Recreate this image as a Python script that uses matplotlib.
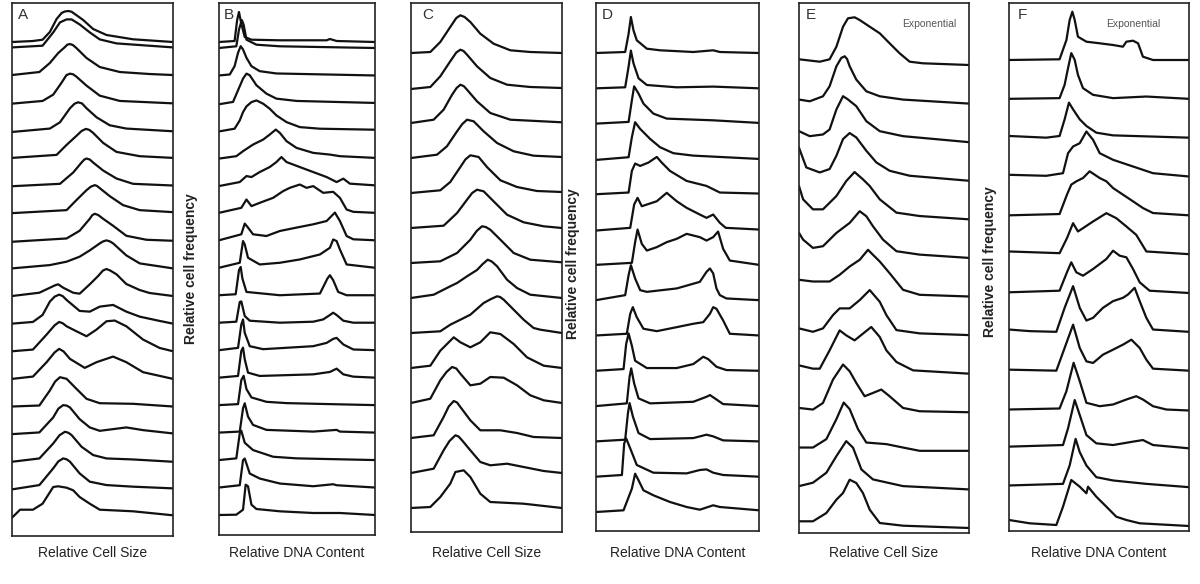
import matplotlib
matplotlib.use("Agg")
import matplotlib.pyplot as plt
import numpy as np

plt.rcParams['font.family'] = ['Liberation Sans', 'DejaVu Sans']

# Each trace: list of (channel position in % of axis, relative frequency)
# Traces are listed from the top of the stack to the bottom.

# A - relative cell size
size_a = [
    [(0, 0), (13, 1), (19, 2.3), (23.5, 10), (27.7, 23), (30.8, 29), (32.8, 30.5), (34.9, 31), (37, 30.3), (39, 28), (44.2, 22), (50.4, 13), (58.7, 7), (75.2, 2.7), (100, 0)],
    [(0, 0), (19, 1.7), (25.6, 15), (29.8, 25), (33.9, 28), (37, 28), (42, 23), (48.3, 15), (54.5, 8), (64.9, 4), (100, 0)],
    [(0, 0), (17, 3), (23.5, 12), (28.7, 22), (32.9, 28), (34.3, 30.3), (36, 31), (37.8, 30), (40, 27), (46.3, 17), (54.5, 8), (67, 3), (85.5, 1), (100, 0)],
    [(0, -1), (19, 1.7), (25.6, 8), (30.8, 20), (33.8, 27.5), (36, 29), (38, 28.3), (40, 26), (46.3, 17), (54.5, 7), (67, 1.7), (100, -0.7)],
    [(0, -1.7), (23.5, 1.7), (29.8, 8), (36, 22), (38.8, 26.5), (41, 28), (43.5, 26.8), (46.3, 22), (52.5, 13), (60.7, 5), (71, 1.7), (100, -1)],
    [(0, 0), (27.7, 3), (33.9, 13), (40, 22), (43.3, 27), (45.9, 29), (48, 28), (50.4, 25), (56.6, 15), (64.9, 6), (79.3, 1.7), (100, 0)],
    [(0, -0.7), (29.8, 1.7), (38, 13), (43.2, 23), (44.8, 25.8), (46.3, 27), (48.3, 26), (50.4, 23), (56.6, 15), (64.9, 7), (75.2, 1.7), (100, 0)],
    [(0, 0), (33.9, 3), (40, 13), (46.3, 23), (49, 26.5), (51.4, 28), (52.8, 27.2), (54.5, 25), (60.7, 17), (69, 8), (79.3, 3), (100, 1)],
    [(0, -1), (33.9, 2.3), (42, 10), (48.3, 22), (49.8, 25.5), (51.4, 27), (53.5, 25.8), (56.6, 22), (62.8, 15), (71, 5), (83.5, 1), (100, 0)],
    [(0, 0), (23.5, 3.3), (33.9, 6.7), (42, 11.7), (48.3, 18), (54.5, 25), (56.6, 27), (58.7, 28), (60.8, 27), (62.8, 25), (71, 13), (79.3, 5), (100, 0)],
    [(0, 0), (17, 3.3), (26.7, 10.7), (28.7, 11.7), (31.8, 8.3), (38, 3.3), (42, 2.3), (48.3, 11.7), (53.5, 20), (56.5, 25.5), (58.7, 27), (61, 25.5), (64.9, 21.7), (71, 12), (79.3, 6), (85.5, 3), (100, 0)],
    [(0, 0), (13, 1.7), (19, 8.7), (23.5, 22), (26.5, 27), (29.3, 29), (31.5, 27.5), (33.9, 23.7), (42, 12.7), (48.3, 12), (54.5, 17), (62.8, 18.7), (71, 12), (79.3, 7), (91.7, 2.7), (100, 0)],
    [(0, 0), (13, 1.7), (21.5, 16.7), (26.5, 26), (29.3, 29.3), (31.5, 28), (33.9, 25), (40, 20), (46.3, 15), (52.5, 21.7), (58.7, 30), (63.8, 30.7), (71, 25), (81.4, 11.7), (91.7, 3.3), (100, 0)],
    [(0, 0), (13, 2.3), (21.5, 16.7), (26.5, 26.5), (29.3, 30), (32, 27.5), (36, 20), (45.2, 11), (52.5, 16.7), (62.8, 22.3), (71, 16.7), (81.4, 6.7), (100, 0)],
    [(0, 0), (17, 1), (23.5, 16), (26.8, 25), (29.8, 29.3), (33.9, 27.7), (40, 17.7), (46.3, 7.7), (54.5, 3.3), (75.2, 2.7), (100, 0)],
    [(0, 0), (17, 1.7), (25.6, 16.7), (28.8, 25.5), (31.8, 29), (34, 28.5), (36, 26.7), (42, 15), (48.3, 6.7), (54.5, 3.3), (71, 6.7), (81.4, 4), (100, 0.7)],
    [(0, 0), (17, 3.3), (25.6, 18.3), (29.5, 26.5), (32.9, 30), (35, 29), (37, 26.7), (43.2, 15), (50.4, 6.7), (58.7, 3.3), (75.2, 2.3), (100, 0)],
    [(0, 0), (17, 4.3), (25.6, 21), (28.8, 28), (31.8, 31), (34, 30), (36, 27.7), (42, 16), (48.3, 7.7), (58.7, 4.3), (75.2, 2.7), (100, 1)],
    [(0, -0.7), (5, 7.3), (13, 7.3), (19, 13.3), (25.6, 30), (28.7, 30.7), (33.9, 29.3), (38, 26.7), (42, 20), (48.3, 13.3), (54.5, 7.3), (75.2, 5.7), (100, 1.7)],
]

# B - relative DNA content
dna_b = [
    [(0, 0), (10, 1), (11.6, 21.7), (12.8, 30), (14.3, 18.3), (16.5, 5), (20.8, 2.3), (39, 1.7), (69, 1.7), (71.1, 3), (75.4, 1), (100, 0)],
    [(0, 0), (11.1, 1.7), (12.8, 18.3), (14.6, 28), (15.8, 23.3), (17.6, 8.3), (24, 3.3), (39, 1.7), (100, 0)],
    [(0, 0), (6.9, 1), (10, 9.3), (12.2, 22.7), (13.9, 29.3), (15.4, 26), (17.6, 17.7), (20.8, 9.3), (26.1, 4.3), (36.8, 2), (100, 0)],
    [(0, -1.3), (9, 1), (12.2, 12.7), (15.4, 24.3), (17.6, 29.3), (19.7, 27.7), (24, 17.7), (30.4, 9.3), (36.8, 4.3), (49.7, 2), (100, 0)],
    [(0, -1), (10, 1.7), (13.3, 10), (15.4, 18.3), (17.6, 24), (20.8, 28.3), (24, 30), (28.3, 26.7), (32.5, 21.7), (36.8, 15), (43.3, 8.3), (51.8, 3.3), (64.7, 1.7), (100, 0.7)],
    [(0, -0.7), (11.1, 1.7), (15.4, 6.7), (21.8, 13.3), (28.3, 18.3), (32.5, 23.3), (36.4, 28.3), (39, 25), (43.3, 16.7), (49.7, 10), (60.4, 5), (71.1, 3.3), (77.5, 1.7), (100, 0)],
    [(0, -0.7), (13.3, 3.3), (17.6, 9.3), (20.8, 8.3), (26.1, 13.3), (32.5, 18.3), (36.8, 23.3), (40, 28.3), (43.3, 23.3), (51.8, 18.3), (60.4, 13.3), (69, 8.3), (75.4, 3.3), (79.7, 6.7), (83.9, 1.7), (100, 0)],
    [(0, 0), (14.3, 5), (17.6, 13.3), (20.8, 6.7), (26.1, 10), (34.7, 15), (41.1, 21.7), (45.4, 25), (51.8, 28.3), (56.1, 25), (60.4, 26.7), (66.8, 20), (73.2, 21), (77.5, 15), (81.8, 3.3), (86.1, 1), (100, 0)],
    [(0, 0), (14.3, 6), (16.5, 16.7), (18.6, 12.7), (21.8, 6), (30.4, 4.3), (39, 9.3), (49.7, 12.7), (60.4, 16), (69, 19.3), (74.3, 27.7), (77.5, 19.3), (81.8, 4.3), (86.1, 1), (100, 0)],
    [(0, 0), (13.3, 5), (15.4, 26.7), (16.5, 23.3), (18.6, 10), (26.1, 3.3), (39, 5), (51.8, 8.3), (64.7, 13.3), (71.1, 20), (73.2, 28.3), (75.4, 26.7), (77.5, 18.3), (81.8, 3.3), (100, 0)],
    [(0, 0), (10.7, 1), (12.8, 25), (13.9, 28.3), (15, 16.7), (17.6, 3.3), (39, 0), (64.7, 1.7), (69.5, 16.7), (71.1, 20), (73.2, 15), (76.4, 3.3), (81.8, 0), (100, 0)],
    [(0, 0), (11.1, 1), (13.3, 20.7), (14.3, 21.3), (16.5, 6.7), (19.7, 2), (39, 0), (60.4, 1), (66.8, 3.3), (71.1, 7.7), (73.2, 10), (75.4, 7.7), (79.7, 2), (86.1, 0), (100, 0)],
    [(0, 0), (12.2, 2.3), (14.3, 25.7), (15.4, 30.7), (16.5, 17.3), (19.7, 4), (28.3, 1), (60.4, 4), (69, 7.3), (73.2, 11.3), (75.4, 12.3), (79.7, 5.7), (86.1, 0.7), (100, 0)],
    [(0, 0), (12.2, 1.7), (14.3, 26.7), (15.4, 30), (16.5, 18.3), (18.6, 5), (26.1, 1.7), (60.4, 3.3), (71.1, 5.7), (75.4, 9), (79.7, 3.3), (86.1, 1), (100, 0)],
    [(0, 0), (12.2, 1), (14.3, 25), (15.8, 29.3), (17.6, 16), (20.8, 7.7), (30.4, 3.3), (43.3, 2), (71.1, 1), (100, 0)],
    [(0, 0), (13.3, 1), (15.4, 24.3), (16.5, 29.3), (18.6, 16), (21.8, 7.7), (30.4, 2.7), (60.4, 1), (75.4, 2.7), (77.5, 1), (100, 0)],
    [(0, 0), (11.1, 1.7), (13.3, 26.7), (14.3, 29.3), (16.5, 17.3), (21.8, 10), (34.7, 3.3), (49.7, 1.7), (100, 0)],
    [(0, 0), (13.3, 2.3), (15.4, 27.3), (16.5, 29), (19.7, 14), (26.1, 9), (39, 4), (60.4, 1.3), (73.2, 3.3), (75.4, 2.3), (100, 0)],
    [(0, 0), (11.1, 0.3), (15.4, 5.3), (17.1, 30.3), (18.6, 28.7), (20.8, 10.3), (24, 6), (39, 3.7), (60.4, 2), (77.5, 2), (100, 0)],
]

# C - relative cell size
size_c = [
    [(0, 0), (12.8, 1), (19.4, 11), (26, 26), (30, 35), (32.7, 37.7), (35.5, 36), (39.3, 31), (45.9, 19.3), (54.7, 9.3), (65.8, 2.7), (79, 1), (100, 0)],
    [(0, -1), (12.8, 1), (19.4, 11.7), (26, 26.7), (30, 35.5), (32.7, 38.3), (34.8, 37), (37.1, 33.3), (43.7, 21.7), (52.5, 10), (63.6, 3.3), (79, 1), (100, 0)],
    [(0, 0), (15, 3.3), (21.6, 13.3), (27.2, 28.3), (30.2, 35), (32.7, 38.3), (35, 36.8), (37.1, 33.3), (43.7, 21.7), (52.5, 10), (65.8, 3.3), (100, 0.7)],
    [(0, 0), (17.2, 3.3), (23.8, 11.7), (30.5, 26.7), (34, 34), (37.1, 38.3), (41.5, 36.7), (48.1, 26.7), (57, 15), (68, 6.7), (81.2, 2.3), (100, 1)],
    [(0, 0), (19.4, 2.7), (26, 11), (32.7, 26), (36, 33.5), (39.3, 37.7), (44.8, 36), (50.3, 26), (59.2, 12.7), (70.2, 6), (83.4, 2), (100, 1)],
    [(0, 0), (21.6, 2.3), (30.5, 15), (37.1, 28.3), (40.5, 35), (43.7, 38.3), (48.1, 36.7), (54.7, 26.7), (63.6, 13.3), (74.6, 5.7), (87.9, 1.7), (100, 0)],
    [(0, 0), (19.4, 1.7), (30.5, 10), (39.3, 23.3), (43.5, 32), (47, 36.7), (49.5, 36), (52.5, 33.3), (59.2, 23.3), (68, 10), (79, 3.3), (100, 0.7)],
    [(0, 0), (15, 3.3), (26, 11.7), (30.5, 15), (37.1, 21.7), (43.7, 28), (47.5, 34), (50.8, 38.3), (53.5, 36.5), (57, 31.7), (63.6, 18.3), (70.2, 10), (79, 3.3), (100, 0)],
    [(0, 0), (19.4, 1.7), (26, 8.3), (32.7, 13.3), (39.3, 18.3), (48.1, 30), (53, 34), (57, 36.7), (59, 36), (61.4, 33.3), (68, 23.3), (74.6, 13.3), (81.2, 5), (85.7, 3.3), (100, 0)],
    [(0, 0), (12.8, 2.3), (19.4, 17.3), (28.3, 30.7), (32.7, 25.7), (39.3, 20.7), (45.9, 25.7), (52.5, 35.7), (59.2, 34), (68, 24), (76.8, 10.7), (87.9, 2.3), (100, 0)],
    [(0, 0), (12.8, 4.3), (19.4, 22.7), (23.5, 31), (27.2, 36), (30, 34.5), (32.7, 29.3), (39.3, 17.7), (45.9, 19.3), (52.5, 26), (61.4, 25.3), (70.2, 17.7), (79, 7.7), (87.9, 2.7), (100, 0)],
    [(0, 0), (15, 2.7), (21.6, 21), (25, 31.5), (28.3, 37), (30.5, 35.5), (32.7, 31), (39.3, 17.7), (45.9, 7.7), (59.2, 7.7), (70.2, 5), (81.2, 1), (100, 0)],
    [(0, 0), (15, 4.3), (21.6, 22.7), (25.5, 32), (29.4, 37.7), (31.5, 36.5), (33.8, 32.7), (39.3, 22.7), (45.9, 11), (52.5, 7.7), (63.6, 9.3), (74.6, 6), (87.9, 2), (100, 0)],
    [(0, 0), (12.8, 1), (19.4, 11), (26, 24.3), (29.4, 36), (34.9, 37.7), (39.3, 31), (45.9, 14.3), (52.5, 6), (74.6, 4.3), (100, 0)],
]

# D - relative DNA content
dna_d = [
    [(0, 0), (17.9, 1), (20, 19.3), (21.4, 36), (23, 22.7), (25, 12.7), (31.2, 4.3), (39.3, 2.7), (59.7, 1), (71.9, 2.7), (76, 1), (100, 0)],
    [(0, 0), (17.9, 1), (20, 21.7), (21.4, 37.7), (23, 25), (26.1, 10), (31.2, 3.3), (49.5, 1), (71.9, 1.7), (100, 0)],
    [(0, 0), (20, 1.7), (22, 23.3), (23.4, 37.3), (26.1, 30), (29.1, 20), (35.2, 10), (43.4, 5), (71.9, 3.3), (100, 0.7)],
    [(0, -1), (20, 1.7), (22, 21.7), (24, 36.7), (27.1, 30), (33.2, 20), (39.3, 11.7), (47.5, 5.7), (59.7, 3.3), (100, 0)],
    [(0, 0), (20, 1.7), (22, 23.3), (24, 30.7), (27.1, 28.3), (32.2, 31.7), (37.3, 37.3), (40.3, 31.7), (45.4, 23.3), (55.6, 13.3), (67.8, 8.3), (76, 1.7), (100, 0.7)],
    [(0, -1), (21, 1.7), (23.4, 25), (25.5, 31.7), (28.1, 23.3), (31.2, 25), (37.3, 28.3), (43.4, 36.7), (49.5, 28.3), (55.6, 21.7), (63.7, 15), (67.8, 11.7), (71.9, 15), (76, 6.7), (79.6, 1.7), (100, 0)],
    [(0, 0), (22, 2), (24, 22.7), (25.5, 35.3), (28.1, 21), (31.2, 14.3), (37.3, 17.7), (43.4, 22.7), (49.5, 26), (55.6, 31), (63.7, 27.7), (67.8, 24.3), (71.9, 27.7), (74.9, 33.3), (78, 16), (82.1, 4.3), (100, 0)],
    [(0, 0), (17.9, 5), (20, 25), (21.4, 35), (24, 21.7), (27.1, 10), (31.2, 8.3), (49.5, 11.7), (63.7, 18.3), (67.8, 28.3), (69.9, 31.7), (71.9, 26.7), (73.9, 11.7), (76, 5), (80, 1.7), (100, 0)],
    [(0, 0), (18.9, 1.7), (21, 21.7), (22.6, 28.3), (25, 18.3), (29.1, 6.7), (37.3, 4.3), (49.5, 8.3), (59.7, 11.7), (65.8, 13.3), (69.9, 21.7), (71.9, 28.3), (73.9, 26.7), (78, 15), (82.1, 1.7), (100, 0)],
    [(0, 0), (16.9, 1.7), (18.5, 26.7), (20, 37.3), (22, 25), (24, 10), (31.2, 2.7), (49.5, 2.7), (59.7, 6.7), (65.8, 14), (68.8, 11.7), (73.9, 4), (80, 0.7), (100, 0)],
    [(0, 0), (18.9, 2.7), (20.6, 29.3), (21.6, 37.7), (23.4, 22.7), (26.1, 7.7), (33.2, 2.7), (59.7, 4.3), (67.8, 9.3), (69.9, 11), (72.9, 7.7), (78, 2), (100, 0)],
    [(0, 0), (17.9, 1.7), (19.6, 28.3), (20.6, 38.3), (22.6, 25), (26.1, 8.3), (33.2, 2.3), (59.7, 3.3), (67.8, 6.7), (71.9, 5), (78, 1), (100, 0)],
    [(0, 0), (15.9, 1.7), (17.3, 33.3), (18.5, 38.3), (21, 28.3), (25, 11.7), (35.2, 4), (55.6, 3.3), (63.7, 6.7), (67.8, 7.3), (71.9, 4), (78, 1.7), (100, 0)],
    [(0, 0), (16.9, 1.7), (22, 23.3), (24, 38.3), (26.1, 31.7), (29.1, 21.7), (35.2, 16.7), (45.4, 10), (55.6, 5), (63.7, 2.3), (71.9, 6.7), (76, 5), (100, 1.7)],
]

# E - relative cell size (top trace: exponential culture)
size_e = [
    [(0, 5.7), (12.2, 3.3), (18, 5.7), (22, 18.3), (25.9, 38.3), (28.8, 46.7), (32.7, 47.7), (35.7, 45), (41.6, 38.3), (47.5, 31.7), (53.3, 21.7), (59.2, 11.7), (65.1, 3.3), (72.9, 1.7), (100, 0)],
    [(0, 4), (6.3, 2.3), (14.1, 7.3), (18, 17.3), (22, 37.3), (24.9, 45.7), (26.9, 47.3), (28.3, 44.5), (29.8, 37.3), (33.7, 24), (39.6, 12.3), (47.5, 7.3), (61.2, 4), (100, 0)],
    [(0, 11), (6.3, 6), (14.1, 7.7), (18, 12.7), (22, 32.7), (25.9, 46), (28.8, 42.7), (33.7, 36), (39.6, 21), (47.5, 11), (61.2, 6), (100, 0)],
    [(0, 33), (4.3, 13.3), (12.2, 8.3), (18, 11.7), (22, 25), (25.9, 41.7), (29.8, 47.7), (33.7, 43.3), (39.6, 30), (45.5, 18.3), (53.3, 10), (65.1, 5), (100, 0)],
    [(0, 33.3), (2.4, 20), (8.2, 10), (14.1, 10), (22, 23.3), (27.8, 38.3), (32.7, 47.3), (37.6, 40), (41.6, 33.3), (47.5, 20), (57.3, 6.7), (71, 3.3), (100, 0)],
    [(0, 25), (2.4, 18.3), (8.2, 10), (14.1, 11.7), (22, 25), (29.8, 35), (35.7, 46.7), (39.6, 41.7), (43.5, 31.7), (49.4, 18.3), (57.3, 6.7), (71, 3.3), (100, 0)],
    [(0, 16.7), (8.2, 15), (18, 15), (23.9, 21.7), (29.8, 30), (35.7, 36.7), (40.6, 46.7), (43.5, 41.7), (47.5, 35), (53.3, 23.3), (61.2, 6.7), (71, 1.7), (100, 0)],
    [(0, 6.7), (8.2, 3.3), (14.1, 6.7), (20, 20), (23.9, 26.7), (29.8, 26.7), (35.7, 35), (41.6, 45), (47.5, 33.3), (51.4, 20), (57.3, 5), (71, 1.7), (100, 0)],
    [(0, 8.3), (8.2, 5), (12.2, 5), (18, 23.3), (23.9, 43.3), (27.8, 38.3), (32.7, 33.3), (37.6, 40), (42.5, 46.7), (47.5, 36.7), (51.4, 23.3), (57.3, 11.7), (67.1, 3.3), (100, 0)],
    [(0, 4.3), (8.2, 2.7), (14.1, 9.3), (20, 32.7), (25.9, 47.7), (29.8, 41), (33.7, 29.3), (38.6, 16), (43.5, 19.3), (48.4, 22.7), (53.3, 16), (61.2, 4.3), (71, 1), (100, 0)],
    [(0, 3.3), (8.2, 3.3), (16.1, 11.7), (22, 31.7), (26.3, 48.3), (29.8, 41.7), (34.7, 21.7), (39.6, 8.3), (51.4, 6.7), (61.2, 3.3), (71, 0), (100, 0)],
    [(0, 3.3), (8.2, 6.7), (16.1, 16.7), (22, 33.3), (27.8, 48.3), (31.8, 41.7), (36.7, 20), (43.5, 10), (61.2, 3.3), (100, 0)],
    [(0, 6.7), (8.2, 6.7), (16.1, 15), (22, 28.3), (25.9, 35), (29.8, 48.3), (33.7, 45), (37.6, 35), (41.6, 18.3), (47.5, 5), (61.2, 2.3), (100, 0)],
]

# F - relative DNA content (top trace: exponential culture)
dna_f = [
    [(0, 0), (28.1, 0.7), (31.9, 20), (33.7, 40), (35.2, 48.3), (36.5, 40), (38.3, 23.3), (43, 18.3), (50.4, 16.7), (57.8, 15), (63.3, 13.3), (65.2, 18.3), (68.9, 19.3), (71.7, 16.7), (74.4, 3.3), (80, 0), (100, 0)],
    [(0, 0), (28.1, 0.7), (30.9, 14), (32.8, 30.7), (34.6, 45.7), (36.5, 39), (38.3, 24), (41.1, 10.7), (46.7, 4), (57.8, 0.7), (76.3, 2.3), (100, 0)],
    [(0, 1.7), (20.7, 0), (28.1, 1.7), (30.9, 18.3), (33.3, 35), (35.6, 28.3), (39.3, 18.3), (43, 11.7), (48.5, 5), (57.8, 2.3), (100, 0)],
    [(0, 1.7), (20.7, 0.7), (30, 3.3), (32.8, 23.3), (35.6, 30), (39.3, 33.3), (43, 45), (46.7, 36.7), (50.4, 23.3), (57.8, 16.7), (68.9, 10), (80, 3.3), (100, 0)],
    [(0, 0), (28.1, 1.3), (32.2, 20.7), (34.6, 30.7), (37.4, 34), (41.1, 37.3), (44.8, 44), (50.4, 37.3), (54.1, 34), (57.8, 27.3), (63.3, 20.7), (68.9, 14), (74.4, 7.3), (80, 2.3), (100, 0)],
    [(0, 2.7), (28.1, 1), (32.2, 16), (35.6, 31), (38.3, 22.7), (41.1, 26), (46.7, 32.7), (54.1, 41), (59.6, 36), (65.2, 27.7), (70.7, 19.3), (76.3, 2.7), (100, 0)],
    [(0, 0.7), (28.1, 2.3), (32.2, 20.7), (34.6, 30.7), (37.4, 20.7), (41.1, 17.3), (46.7, 24), (54.1, 34), (57.8, 42.3), (61.5, 37.3), (65.2, 35.7), (68.9, 24), (72.6, 10.7), (78.1, 2.3), (100, 0)],
    [(0, 2.3), (11.5, 0.7), (26.3, 0), (30.9, 24), (35.6, 45.7), (39.3, 24), (43, 11.3), (46.7, 14), (52.2, 24), (57.8, 30.7), (63.3, 34), (66.1, 37.3), (69.8, 44), (72.6, 30.7), (76.3, 14), (80, 2.3), (100, 0)],
    [(0, 1), (26.3, 0), (30.9, 22.7), (35.6, 46), (39.3, 22.7), (43, 9.3), (46.7, 7.7), (52.2, 16), (57.8, 21), (63.3, 26), (68, 31), (72.6, 22.7), (76.3, 11), (80, 2), (100, 0)],
    [(0, 0), (28.1, 1), (31.9, 18.3), (35.9, 46.7), (39.3, 28.3), (43, 6.7), (50.4, 3.3), (57.8, 5), (65.2, 10), (70.7, 13.3), (74.4, 10), (80, 3.3), (87.4, 0), (100, -1)],
    [(0, 1.7), (30, 3.3), (32.8, 20), (36.5, 48.3), (39.3, 33.3), (43, 13.3), (48.5, 5), (57.8, 3.3), (68.9, 6.7), (74.4, 8.3), (80, 3.3), (100, 0)],
    [(0, 1.7), (30, 3.3), (33.7, 21.7), (37, 48.3), (39.3, 35), (43, 21.7), (48.5, 10), (57.8, 6.7), (76.3, 3.3), (100, 0)],
    [(0, 6), (11.5, 2.7), (26.3, 1), (30, 19.3), (34.6, 46), (39.3, 39.3), (43, 32.7), (43.9, 39.3), (48.5, 29.3), (54.1, 19.3), (59.6, 9.3), (65.2, 6), (72.6, 2.7), (100, 0)],
]

panel_data = [size_a, dna_b, size_c, dna_d, size_e, dna_f]
panel_letters = ["A", "B", "C", "D", "E", "F"]
x_labels = ["Relative Cell Size", "Relative DNA Content"] * 3
y_label = "Relative cell frequency"
note = "Exponential"

# ---- layout (pixel geometry of the 1200x584 canvas) ----
W, H = 1200, 584
# left, right, top, bottom, first regular baseline, last baseline, extra top baseline
boxes = [
    (12, 173, 3, 536, 47.4, 517, 42),
    (219, 375, 3, 535, 48, 515, 42),
    (411, 562, 3, 532, 53, 508, None),
    (596, 759, 3, 531, 53, 512, None),
    (799, 969, 3, 533, 65, 528, None),
    (1009, 1189, 3, 531, 60, 526, None),
]
letter_x = [18, 224, 422, 602, 806, 1018]
ylabel_pos = [(191, 269), (573, 264), (990, 262)]
note_pos = [(929, 24), (1133, 24)]

fig = plt.figure(figsize=(12, 5.84), dpi=100)
fig.patch.set_facecolor("white")

for k, (traces, box) in enumerate(zip(panel_data, boxes)):
    left, right, top, bottom, b0, b1, extra = box
    ax = fig.add_axes([left / W, 1 - bottom / H, (right - left) / W, (bottom - top) / H])
    ax.set_xlim(0, 100)
    ax.set_ylim(bottom, top)
    n_reg = len(traces) - (1 if extra is not None else 0)
    bases = list(np.linspace(b0, b1, n_reg))
    if extra is not None:
        bases = [extra] + bases
    for base, tr in zip(bases, traces):
        xs = [p[0] for p in tr]
        hs = np.array([p[1] for p in tr])
        ax.plot(xs, base - hs, color="#111111", lw=1.6,
                solid_joinstyle="round", solid_capstyle="round")
    ax.set_xticks([])
    ax.set_yticks([])
    for sp in ax.spines.values():
        sp.set_linewidth(1.2)
        sp.set_color("#222222")

    fig.text(letter_x[k] / W, 1 - 15 / H, panel_letters[k], fontsize=11,
             color="#333333", ha="left", va="center")
    fig.text((left + right) / 2 / W, 1 - 553 / H, x_labels[k], fontsize=10,
             color="#222222", ha="center", va="center")

for (x, y) in ylabel_pos:
    fig.text(x / W, 1 - y / H, y_label, rotation=90, fontsize=10,
             fontweight="bold", color="#222222", ha="center", va="center")

for (x, y) in note_pos:
    fig.text(x / W, 1 - y / H, note, fontsize=7.5, color="#555555",
             ha="center", va="center")

fig.savefig("out.png", dpi=100)
